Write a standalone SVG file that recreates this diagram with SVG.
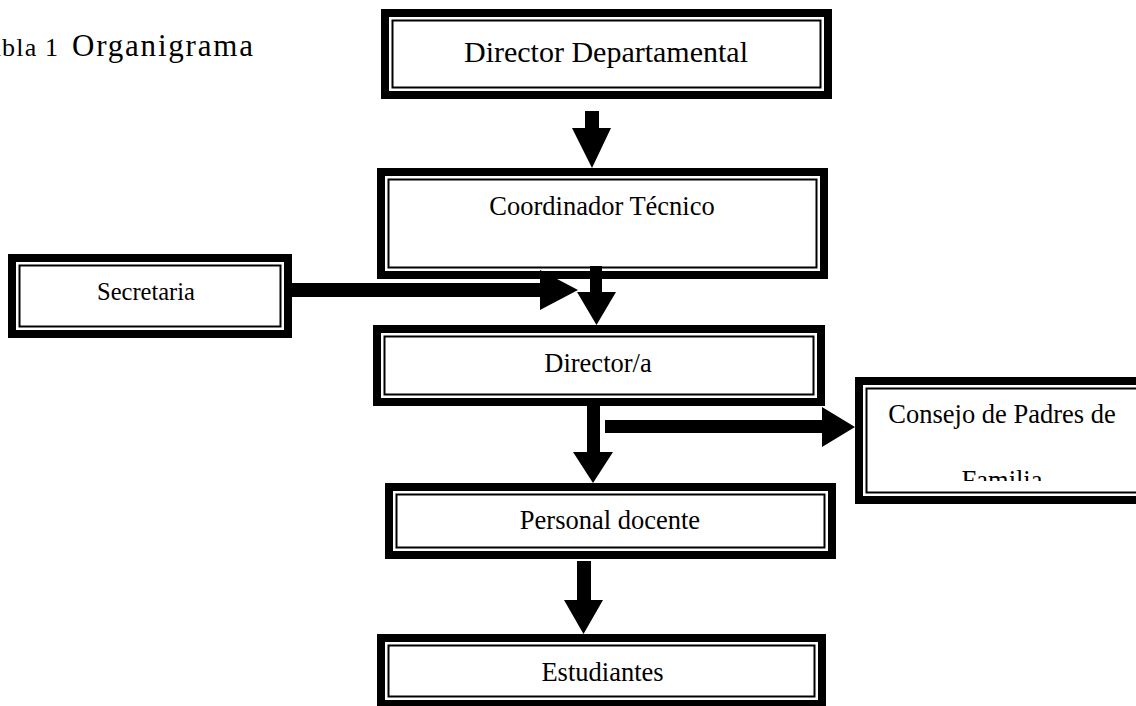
<svg xmlns="http://www.w3.org/2000/svg" width="1136" height="706" viewBox="0 0 1136 706">
  <style>
    .band { fill: #fff; stroke: #000; stroke-width: 8; }
    .line { fill: none; stroke: #000; stroke-width: 2; }
    .t { font-family: "Liberation Serif", "Times New Roman", serif; fill: #000; text-anchor: middle; font-size: 26.5px; }
    .arrow { fill: #000; stroke: none; }
  </style>
  <defs>
    <clipPath id="clipFam">
      <rect x="860" y="380" width="280" height="101"/>
    </clipPath>
  </defs>
  <rect width="1136" height="706" fill="#fff"/>

  <g id="title">
    <text x="-26" y="56" font-family="Liberation Serif, serif" font-size="26" letter-spacing="1.2">Tabla 1</text>
    <text x="72" y="56" font-family="Liberation Serif, serif" font-size="31" letter-spacing="1.8">Organigrama</text>
  </g>

  <g id="node-director-departamental">
    <rect class="band" x="385" y="13" width="443" height="82"/>
    <rect class="line" x="392.5" y="20.5" width="428" height="67"/>
    <text class="t" x="606" y="62" style="font-size:30px">Director Departamental</text>
  </g>

  <g id="node-coordinador">
    <rect class="band" x="381" y="172" width="443" height="103"/>
    <rect class="line" x="388.5" y="179.5" width="428" height="88"/>
    <text class="t" x="602" y="215">Coordinador Técnico</text>
  </g>

  <g id="node-secretaria">
    <rect class="band" x="12" y="258" width="276" height="76"/>
    <rect class="line" x="19.5" y="265.5" width="261" height="61"/>
    <text class="t" x="146" y="300" style="font-size:24.5px">Secretaria</text>
  </g>

  <g id="node-director">
    <rect class="band" x="377" y="329" width="444" height="73"/>
    <rect class="line" x="384.5" y="336.5" width="429" height="58"/>
    <text class="t" x="598" y="372">Director/a</text>
  </g>

  <g id="node-consejo">
    <rect class="band" x="859" y="381" width="287" height="119"/>
    <rect class="line" x="866.5" y="388.5" width="272" height="104"/>
    <text class="t" x="1002" y="423">Consejo de Padres de</text>
    <text class="t" x="1002" y="489" clip-path="url(#clipFam)">Familia</text>
  </g>

  <g id="node-personal">
    <rect class="band" x="389" y="487" width="443" height="68"/>
    <rect class="line" x="396.5" y="494.5" width="428" height="53"/>
    <text class="t" x="610" y="529">Personal docente</text>
  </g>

  <g id="node-estudiantes">
    <rect class="band" x="381" y="638" width="441" height="66"/>
    <rect class="line" x="388.5" y="645.5" width="426" height="51"/>
    <text class="t" x="602.5" y="681">Estudiantes</text>
  </g>

  <g id="connectors">
    <polygon class="arrow" points="585,111 599,111 599,128 611,128 592,168 572,128 585,128"/>
    <polygon class="arrow" points="292,283 540,283 540,270 578,290 540,310 540,297 292,297"/>
    <polygon class="arrow" points="590,266 602,266 602,292 616,292 596.5,325 577,292 590,292"/>
    <polygon class="arrow" points="587,406 600,406 600,452 613,452 593,483 573,452 587,452"/>
    <polygon class="arrow" points="605,420 822,420 822,407 855,427 822,447 822,433 605,433"/>
    <polygon class="arrow" points="577,561 591,561 591,600 603,600 583.5,634 564,600 577,600"/>
  </g>
</svg>
